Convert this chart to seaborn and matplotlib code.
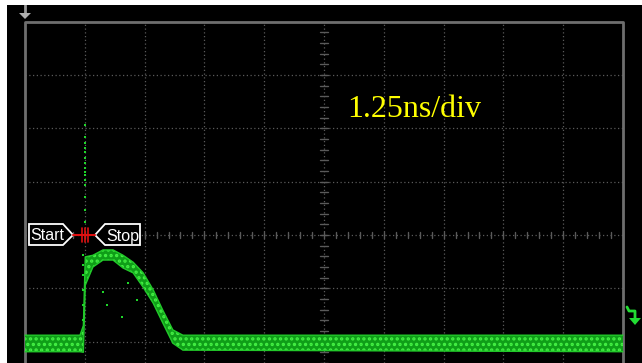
import numpy as np
import pandas as pd
import matplotlib
matplotlib.use("Agg")
import matplotlib.pyplot as plt
from matplotlib.patches import Polygon
import seaborn as sns

# ---------------------------------------------------------
# values (x in ns, y in divisions)
# ---------------------------------------------------------
ns_per_div = 1.25
n_xdiv = 10

t_env = [0.0, 1.15, 1.22, 1.26, 1.42, 1.63, 1.84, 2.05, 2.26, 2.47, 2.68, 2.88, 3.09, 3.30, 12.5]
upper = [-1.88, -1.88, -1.70, -0.41, -0.38, -0.28, -0.28, -0.38, -0.51, -0.71, -1.03, -1.41, -1.78, -1.88, -1.88]
lower = [-2.19, -2.19, -2.20, -0.94, -0.60, -0.47, -0.47, -0.62, -0.71, -0.98, -1.28, -1.65, -2.03, -2.16, -2.19]

# thin spike / rising edge at the trigger point
spike_t = [1.25] * 15 + [1.22] * 6
spike_y = [2.06, 1.84, 1.73, 1.63, 1.56, 1.45, 1.35, 1.26, 1.18, 1.13, 1.03, 0.94, 0.71, 0.47, 0.24,
           -0.375, -0.56, -0.75, -1.03, -1.31, -1.59]

# stray dots under the pulse
stray_t = [1.63, 1.71, 2.03, 2.34, 2.15]
stray_y = [-1.07, -1.31, -1.54, -1.22, -0.90]

label = "1.25ns/div"

sns.set_theme(style="dark", rc={"axes.facecolor": "black", "figure.facecolor": "white"})
plt.rcParams["font.family"] = ["Liberation Sans", "DejaVu Sans"]
plt.rcParams["hatch.linewidth"] = 1.6
plt.rcParams["hatch.color"] = "#44f044"

fig = plt.figure(figsize=(6.42, 3.63), dpi=100)
ax = fig.add_axes([7 / 642, 0, 635 / 642, 358 / 363])

# pixel -> data mapping: left border px 25, 59.8 px/div ; centre line px 235, 53.3 px/div
def px_t(px):
    return (px - 25) / 59.8 * ns_per_div

def px_y(py):
    return (235 - py) / 53.3

ax.set_xlim(px_t(7), px_t(642))
ax.set_ylim(px_y(363), px_y(5))
ax.set_xticks([])
ax.set_yticks([])
for s in ax.spines.values():
    s.set_visible(False)

grid_c = "#5a5a5a"
dot = (0, (1, 2))
t_end = ns_per_div * n_xdiv

# graticule
for k in range(1, n_xdiv):
    ax.plot([k * ns_per_div] * 2, [px_y(363), 4], color=grid_c, lw=0.9, ls=dot, zorder=1)
for j in [-2, -1, 1, 2, 3]:
    ax.plot([0, t_end], [j, j], color=grid_c, lw=0.9, ls=dot, zorder=1)
ax.plot([0, t_end], [0, 0], color=grid_c, lw=0.9, ls=dot, zorder=1)

# centre axes minor ticks
for tt in np.arange(0, t_end + 0.01, ns_per_div / 5):
    ax.plot([tt, tt], [-0.06, 0.06], color=grid_c, lw=1.0, zorder=1)
for yy in np.arange(-2.4, 4.0, 0.2):
    ax.plot([t_end / 2 - 0.08, t_end / 2 + 0.08], [yy, yy], color=grid_c, lw=1.0, zorder=1)

# border
ax.plot([0, 0, t_end, t_end], [px_y(363), 4, 4, px_y(363)], color="#6e6e6e", lw=2, zorder=2)

# trace: speckled band
ax.fill_between(t_env, lower, upper, facecolor="#0f9e18", hatch="...", edgecolor="#44f044",
                lw=0, zorder=3)
edges = pd.DataFrame({"t": t_env + t_env, "y": upper + lower,
                      "edge": ["up"] * len(t_env) + ["low"] * len(t_env)})
sns.lineplot(data=edges, x="t", y="y", units="edge", estimator=None, sort=False,
             color="#22c82a", lw=1.0, ax=ax, zorder=4)
sns.scatterplot(x=spike_t, y=spike_y, color="#1fd62a", s=4, marker="s", linewidth=0, ax=ax, zorder=4)
sns.scatterplot(x=stray_t, y=stray_y, color="#1fd62a", s=4, marker="s", linewidth=0, ax=ax, zorder=4)

# scale text
ax.text(px_t(347), px_y(117), label, color="#ffff00", fontsize=23,
        family=["Liberation Serif", "DejaVu Serif"], ha="left", va="baseline", zorder=6)

# start / stop markers
start = [(px_t(29), px_y(224)), (px_t(63), px_y(224)), (px_t(73), 0),
         (px_t(63), px_y(245)), (px_t(29), px_y(245))]
stop = [(px_t(140), px_y(224)), (px_t(105), px_y(224)), (px_t(95), 0),
        (px_t(105), px_y(245)), (px_t(140), px_y(245))]
for poly in (start, stop):
    ax.add_patch(Polygon(poly, closed=True, facecolor="black", edgecolor="white", lw=1.3, zorder=7))
ax.text(px_t(47), px_y(236), "Start", color="white", fontsize=11.5, ha="center", va="center", zorder=8)
ax.text(px_t(123), px_y(236), "Stop", color="white", fontsize=11.5, ha="center", va="center", zorder=8)
ax.plot([px_t(73), px_t(95)], [0, 0], color="#e01010", lw=1.5, zorder=8)
for px in (82, 85, 88):
    ax.plot([px_t(px)] * 2, [px_y(228), px_y(242)], color="#e01010", lw=1.2, zorder=8)

# trigger position arrow (top left)
ax.plot([0, 0], [px_y(5), px_y(14)], color="#9a9a9a", lw=2, zorder=8)
ax.add_patch(Polygon([(px_t(19), px_y(13)), (px_t(31), px_y(13)), (0, px_y(19))],
                     closed=True, facecolor="#b0b0b0", edgecolor="none", zorder=8))

# ground level marker (right)
gc = "#22dd33"
ax.plot([px_t(627), px_t(629), px_t(635), px_t(635)],
        [px_y(307), px_y(311), px_y(311), px_y(319)], color=gc, lw=2, zorder=8)
ax.add_patch(Polygon([(px_t(629), px_y(318)), (px_t(641), px_y(318)), (px_t(635), px_y(325))],
                     closed=True, facecolor=gc, edgecolor="none", zorder=8))

fig.savefig("out.png", dpi=100, facecolor="white")
